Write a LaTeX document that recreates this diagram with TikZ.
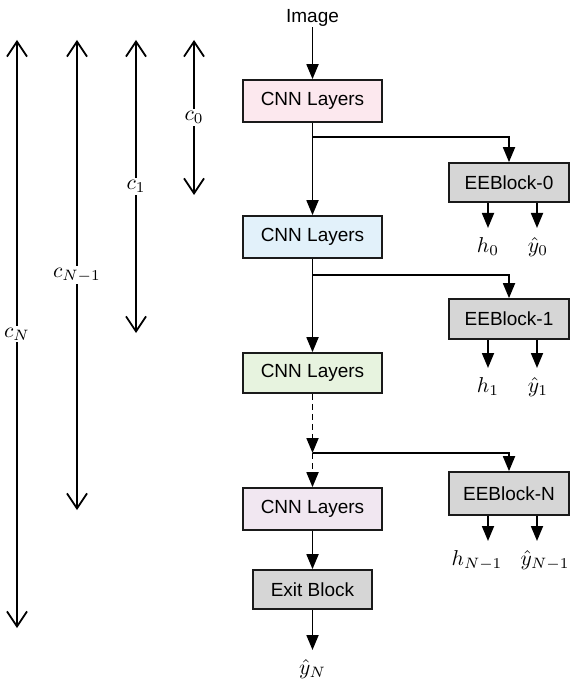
\documentclass[tikz,border=0pt]{standalone}
\usepackage{fontspec}
\setmainfont{Liberation Sans}
\usepackage{graphicx}
\usetikzlibrary{arrows.meta}
\definecolor{cpink}{HTML}{FCE8EE}
\definecolor{cblue}{HTML}{E2F1FA}
\definecolor{cgreen}{HTML}{E7F3DF}
\definecolor{cpurple}{HTML}{F1E7F1}
\definecolor{cgray}{HTML}{D6D6D6}
\definecolor{cline}{HTML}{1A1A1A}
\newcommand{\mlab}[1]{\scalebox{2.15}{$#1$}}
\begin{document}
\begin{tikzpicture}[x=1pt,y=-1pt,
  box/.style={draw=cline,line width=1.7pt,minimum width=139pt,minimum height=42pt,inner sep=0pt,font=\fontsize{19}{22}\selectfont},
  eebox/.style={box,fill=cgray,minimum width=120pt,minimum height=40pt},
  flow/.style={line width=1.8pt,-{Triangle[length=15pt,width=12pt]}},
  dim/.style={line width=1.8pt,{Straight Barb[length=15pt,width=20pt,line width=1.8pt]}-{Straight Barb[length=15pt,width=20pt,line width=1.8pt]}},
  dlab/.style={fill=white,inner sep=2pt},
  outlab/.style={inner sep=0pt,text height=24pt,text depth=7pt}
]
\useasboundingbox (0,0) rectangle (571,684);

% main column
\node[font=\fontsize{19}{22}\selectfont,inner sep=0pt,text height=14pt,text depth=4pt] (img) at (312.5,18) {Image};
\node[box,fill=cpink] (cnn1) at (312.5,101) {CNN Layers};
\node[box,fill=cblue] (cnn2) at (312.5,237) {CNN Layers};
\node[box,fill=cgreen,minimum height=40pt] (cnn3) at (312.5,373) {CNN Layers};
\node[box,fill=cpurple] (cnn4) at (312.5,509) {CNN Layers};
\node[eebox,minimum width=119pt,minimum height=39pt] (exit) at (312.5,589.5) {Exit Block};
\node[outlab,anchor=north] (yN) at (312.5,650) {\mlab{\hat{y}_N}};

% early exit blocks
\node[eebox,minimum height=39pt] (ee0) at (509,182.5) {EEBlock-0};
\node[eebox] (ee1) at (509,319) {EEBlock-1};
\node[eebox,minimum height=43pt] (eeN) at (509,493.5) {EEBlock-N};

\node[outlab,anchor=north] (h0) at (488,228) {\mlab{h_0}};
\node[outlab,anchor=north] (y0) at (538,228) {\mlab{\hat{y}_0}};
\node[outlab,anchor=north] (h1) at (488,368) {\mlab{h_1}};
\node[outlab,anchor=north] (y1) at (538,368) {\mlab{\hat{y}_1}};
\node[outlab,anchor=north] (hN) at (477,541) {\mlab{h_{N-1}}};
\node[outlab,anchor=north] (yN1) at (545,541) {\mlab{\hat{y}_{N-1}}};

% branch points and output arrow columns
\coordinate (b0) at (312.5,137);
\coordinate (b1) at (312.5,275);
\coordinate (bN) at (312.5,453);
\coordinate (xh) at (488,0);
\coordinate (xy) at (537,0);

% flow connectors
\draw[flow] (img.south) -- (cnn1.north);
\draw[flow] (cnn1.south) -- (cnn2.north);
\draw[flow] (cnn2.south) -- (cnn3.north);
\draw[flow,dash pattern=on 6pt off 4pt] (cnn3.south) -- (bN);
\draw[flow,dash pattern=on 6pt off 4pt] (bN) -- (cnn4.north);
\draw[flow] (cnn4.south) -- (exit.north);
\draw[flow] (exit.south) -- (yN.north);

\draw[flow] (b0) -| (ee0.north);
\draw[flow] (b1) -| (ee1.north);
\draw[flow] (bN) -| (eeN.north);

\draw[flow] (xh |- ee0.south) -- (xh |- h0.north);
\draw[flow] (xy |- ee0.south) -- (xy |- y0.north);
\draw[flow] (xh |- ee1.south) -- (xh |- h1.north);
\draw[flow] (xy |- ee1.south) -- (xy |- y1.north);
\draw[flow] (xh |- eeN.south) -- (xh |- hN.north);
\draw[flow] (xy |- eeN.south) -- (xy |- yN1.north);

% cost dimension arrows
\coordinate (c0t) at (194,40);  \coordinate (c0b) at (194,195);
\coordinate (c1t) at (136,40);  \coordinate (c1b) at (136,333);
\coordinate (cmt) at (77,40);   \coordinate (cmb) at (77,510);
\coordinate (cNt) at (17,40);   \coordinate (cNb) at (17,628);
\draw[dim] (c0t) -- node[dlab] (c0) {\mlab{c_0}} (c0b);
\draw[dim] (c1t) -- node[dlab] (c1) {\mlab{c_1}} (c1b);
\draw[dim] (cmt) -- node[dlab] (cm) {\mlab{c_{N-1}}} (cmb);
\draw[dim] (cNt) -- node[dlab] (cN) {\mlab{c_N}} (cNb);
\end{tikzpicture}
\end{document}
